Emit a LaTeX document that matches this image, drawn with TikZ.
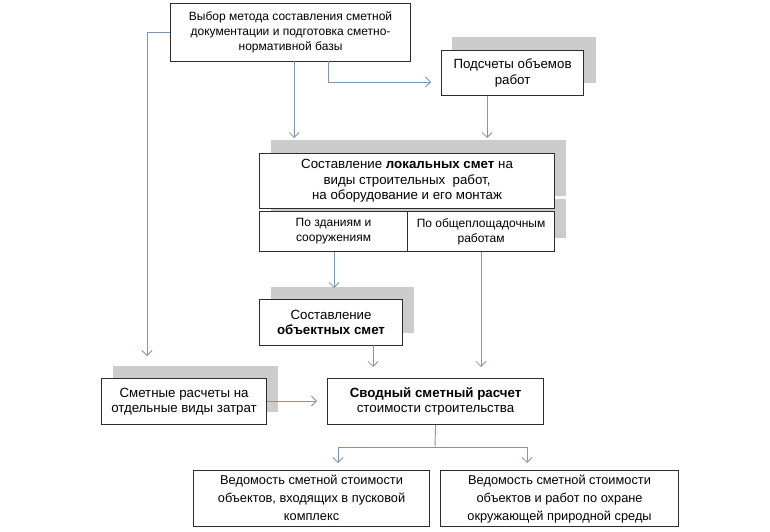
\documentclass[tikz,border=0pt]{standalone}
\usepackage{fontspec}
\setmainfont{Liberation Sans}
\usetikzlibrary{arrows.meta}

\definecolor{flowline}{RGB}{122,150,180}
\definecolor{shade}{RGB}{204,204,204}
\definecolor{boxline}{RGB}{45,45,45}

\tikzset{box/.style={draw=boxline,line width=1.1pt,fill=white,anchor=north west,align=center,inner sep=0pt,font=\fontsize{12}{15}\selectfont},
big text/.style={font=\fontsize{13.3}{15.5}\selectfont},
list text/.style={font=\fontsize{12.8}{18}\selectfont},
shadow box/.style={fill=shade},
flow/.style={draw=flowline,line width=0.9pt,-{Straight Barb[length=5pt,width=10pt,line width=0.8pt]}},
flow plain/.style={draw=flowline,line width=0.9pt}}

\begin{document}
\begin{tikzpicture}[x=1pt,y=-1pt]
\useasboundingbox (0,0) rectangle (770,532);

%% shadows
\fill [shadow box] (452,37) rectangle (596,83);
\fill [shadow box] (271,140) rectangle (566,196);
\fill [shadow box] (271,199) rectangle (566,238);
\fill [shadow box] (271,287) rectangle (414,333);
\fill [shadow box] (113,366) rectangle (278,412);

%% boxes
\node [box,minimum width=240pt,minimum height=58pt] (sel) at (170,3) {Выбор метода составления сметной\\документации и подготовка сметно-\\нормативной базы};
\node [box,big text,minimum width=142pt,minimum height=45pt] (cnt) at (441,50) {Подсчеты объемов\\работ};
\node [box,big text,minimum width=295pt,minimum height=55pt] (loc) at (259,153) {Составление \textbf{локальных смет} на\\виды строительных\ \ работ,\\на оборудование и его монтаж};
\node [box,minimum width=148pt,minimum height=40pt] (bld) at (259,211) {По зданиям и\\сооружениям};
\node [box,minimum width=147pt,minimum height=40pt] (gen) at (407,211) {По общеплощадочным\\работам};
\node [box,big text,minimum width=143pt,minimum height=46pt] (obj) at (259,299) {Составление\\\textbf{объектных смет}};
\node [box,big text,minimum width=165pt,minimum height=46pt] (smr) at (101,378) {Сметные расчеты на\\отдельные виды затрат};
\node [box,big text,minimum width=216pt,minimum height=46pt] (svd) at (327,378) {\textbf{Сводный сметный расчет}\\стоимости строительства};
\node [box,list text,minimum width=236pt,minimum height=56pt] (vd1) at (193,470) {\strut Ведомость сметной стоимости\\\strut объектов, входящих в пусковой\\\strut комплекс};
\node [box,list text,minimum width=238pt,minimum height=56pt] (vd2) at (440,470) {\strut Ведомость сметной стоимости\\\strut объектов и работ по охране\\\strut окружающей природной среды};

%% free ends of connectors
\coordinate (e1) at (147,356);
\coordinate (s1) at (294,61);
\coordinate (e2) at (294,138);
\coordinate (s3) at (328,61);
\coordinate (e3) at (431,82);
\coordinate (e4) at (487,138);
\coordinate (e5) at (334,288);
\coordinate (e6) at (481,367);
\coordinate (s7) at (373,345);
\coordinate (e7) at (373,367);
\coordinate (e8) at (317,401);
\coordinate (j9) at (435,447);
\coordinate (e9) at (338,463);
\coordinate (e10) at (527,463);

%% connectors
\draw [flow] (sel.west) -| (e1);
\draw [flow] (s1) -- (e2);
\draw [flow] (s3) |- (e3);
\draw [flow] (cnt.south -| e4) -- (e4);
\draw [flow] (bld.south -| e5) -- (e5);
\draw [flow] (gen.south -| e6) -- (e6);
\draw [flow] (s7) -- (e7);
\draw [flow] (smr.east |- e8) -- (e8);
\draw [flow plain] (svd.south) -- (j9);
\draw [flow] (j9) -| (e9);
\draw [flow] (j9) -| (e10);

\end{tikzpicture}
\end{document}
